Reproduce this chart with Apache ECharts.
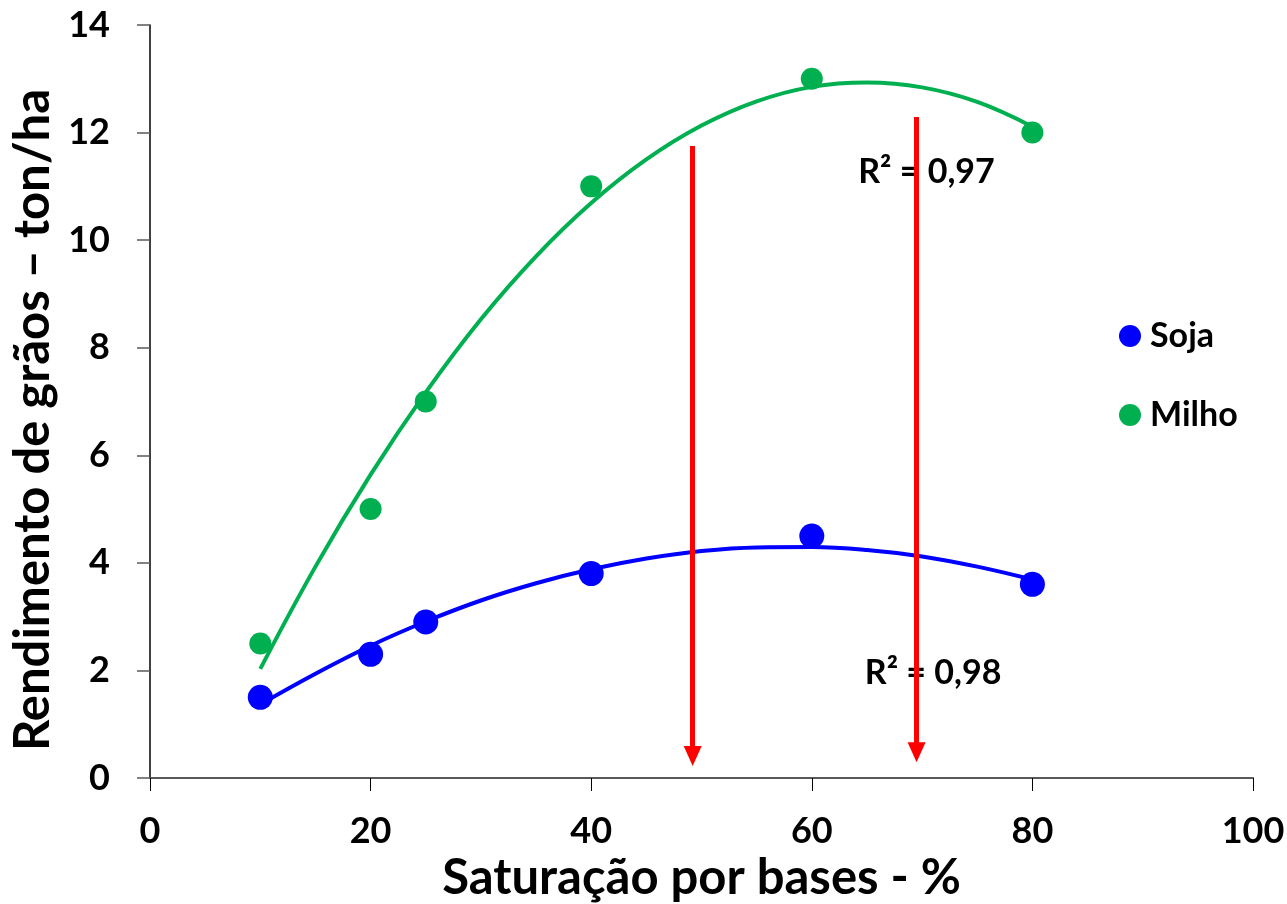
<!DOCTYPE html>
<html>
<head>
<meta charset="utf-8">
<script src="https://cdn.jsdelivr.net/npm/echarts@6/dist/echarts.min.js"></script>
<style>
html,body{margin:0;padding:0;background:#fff;}
#chart{width:1287px;height:904px;}
</style>
</head>
<body>
<div id="chart"></div>
<script>
// Observed data points
const satX = [10, 20, 25, 40, 60, 80];
const sojaY = [1.5, 2.3, 2.9, 3.8, 4.5, 3.6];
const milhoY = [2.5, 5, 7, 11, 13, 12];

// Trend curves
const curveX = [10, 15, 20, 25, 30, 35, 40, 45, 50, 55, 60, 65, 70, 75, 80];
const sojaCurve = [1.37, 1.94, 2.46, 2.91, 3.30, 3.62, 3.88, 4.08, 4.22, 4.287, 4.294, 4.24, 4.12, 3.93, 3.69];
const milhoCurve = [2.03, 3.93, 5.64, 7.17, 8.53, 9.70, 10.69, 11.50, 12.13, 12.58, 12.85, 12.93, 12.84, 12.57, 12.11];

// Red arrows: [x, yStart, yEnd]
const arrows = [[49.2, 11.75, 0.41], [69.5, 12.29, 0.48]];

// R² annotations: [x, y, text]
const r2Labels = [[70.4, 11.26, 'R² = 0,97'], [71.0, 1.95, 'R² = 0,98']];

const xTicks = [0, 20, 40, 60, 80, 100];
const yTicks = [0, 2, 4, 6, 8, 10, 12, 14];

const FONT = 'Lato';
const chart = echarts.init(document.getElementById('chart'));

const zip = (xs, ys) => xs.map((x, i) => [x, ys[i]]);

chart.setOption({
  animation: false,
  backgroundColor: '#fff',
  textStyle: { fontFamily: FONT },
  grid: { left: 150, right: 34, top: 25, bottom: 126, containLabel: false, outerBoundsMode: 'none' },
  legend: {
    orient: 'vertical',
    left: 1119,
    top: 319,
    padding: 0,
    itemGap: 45,
    itemWidth: 22,
    itemHeight: 22,
    data: [{ name: 'Soja', icon: 'circle' }, { name: 'Milho', icon: 'circle' }],
    textStyle: { fontFamily: FONT, fontWeight: 'bold', fontSize: 34, lineHeight: 34, color: '#000', padding: [0, 0, 0, 4] }
  },
  xAxis: {
    type: 'value', min: 0, max: 100, interval: 20,
    name: 'Saturação por bases - %',
    nameLocation: 'middle', nameGap: 75,
    nameTextStyle: { fontFamily: FONT, fontWeight: 'bold', fontSize: 49, color: '#000' },
    axisLine: { lineStyle: { color: '#595959', width: 2 } },
    axisTick: { show: true, length: 13, lineStyle: { color: '#000', width: 1 } },
    axisLabel: { margin: 35, fontFamily: FONT, fontWeight: 'bold', fontSize: 36, color: '#000',
      formatter: v => xTicks.includes(v) ? String(v) : '' },
    splitLine: { show: false }
  },
  yAxis: {
    type: 'value', min: 0, max: 14, interval: 2,
    name: 'Rendimento de grãos – ton/ha',
    nameLocation: 'middle', nameGap: 88,
    nameTextStyle: { fontFamily: FONT, fontWeight: 'bold', fontSize: 49, color: '#000', padding: [0, 37, 0, 0] },
    axisLine: { show: true, lineStyle: { color: '#000', width: 1.5 } },
    axisTick: { show: true, length: 13, lineStyle: { color: '#595959', width: 1.5 } },
    axisLabel: { margin: 40, fontFamily: FONT, fontWeight: 'bold', fontSize: 36, color: '#000',
      formatter: v => yTicks.includes(v) ? String(v) : '' },
    splitLine: { show: false }
  },
  series: [
    {
      name: 'Milho tendência', type: 'line', smooth: 0.4, showSymbol: false, symbol: 'none',
      data: zip(curveX, milhoCurve), lineStyle: { color: '#00B050', width: 4 }, z: 2
    },
    {
      name: 'Soja tendência', type: 'line', smooth: 0.4, showSymbol: false, symbol: 'none',
      data: zip(curveX, sojaCurve), lineStyle: { color: '#0000FF', width: 4 }, z: 2
    },
    {
      name: 'Soja', type: 'scatter', symbol: 'circle', symbolSize: 25,
      data: zip(satX, sojaY), itemStyle: { color: '#0000FF', opacity: 1 }, z: 3
    },
    {
      name: 'Milho', type: 'scatter', symbol: 'circle', symbolSize: 22,
      data: zip(satX, milhoY), itemStyle: { color: '#00B050', opacity: 1 }, z: 3
    },
    {
      name: 'R2', type: 'scatter', symbolSize: 0, silent: true, z: 4,
      itemStyle: { opacity: 1, color: '#000' },
      data: r2Labels.map(r => ({ value: [r[0], r[1]], text: r[2] })),
      label: {
        show: true, position: 'inside', formatter: p => p.data.text, opacity: 1,
        fontFamily: FONT, fontWeight: 'bold', fontSize: 34, color: '#000'
      }
    },
    {
      name: 'Setas', type: 'line', data: [],
      markLine: {
        silent: true, animation: false,
        symbol: ['none', 'triangle'], symbolSize: [18, 20],
        label: { show: false },
        lineStyle: { color: '#FF0000', width: 5, type: 'solid' },
        data: arrows.map(a => [{ coord: [a[0], a[1]] }, { coord: [a[0], a[2]] }])
      },
      z: 6
    }
  ]
});
</script>
</body>
</html>
